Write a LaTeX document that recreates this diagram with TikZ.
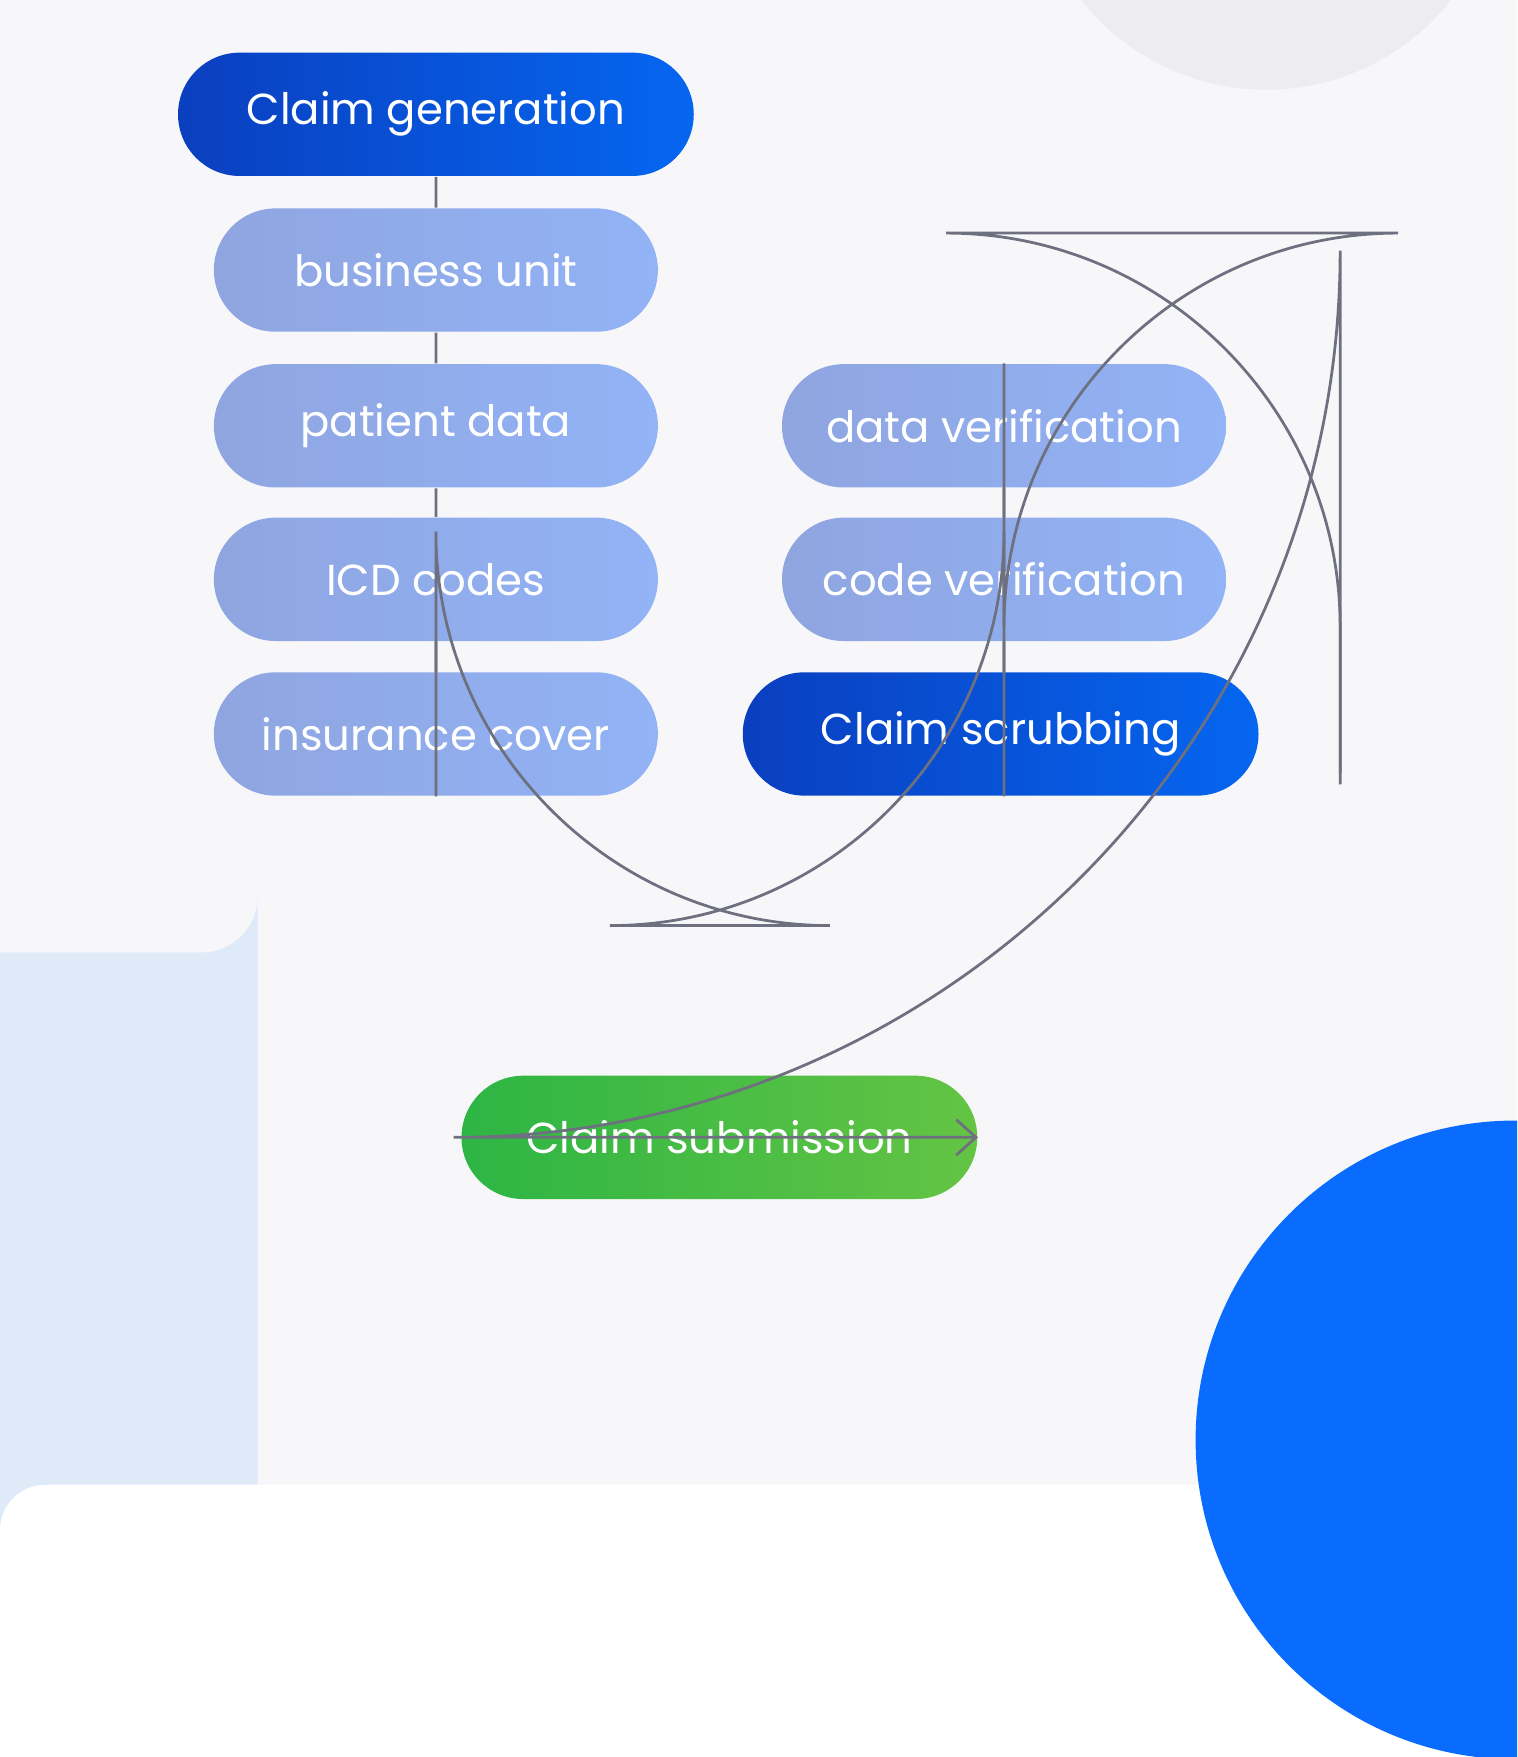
\documentclass[tikz,border=0pt]{standalone}
\usepackage{fontspec}
\setmainfont{Poppins}
\usetikzlibrary{shapes.misc,arrows.meta}
\definecolor{bggray}{HTML}{F7F7F9}
\definecolor{lightpanel}{HTML}{DFEAF9}
\definecolor{topcircle}{HTML}{EDEDF0}
\definecolor{bigblue}{HTML}{0A6CFF}
\definecolor{darkA}{HTML}{0A3FBF}
\definecolor{darkB}{HTML}{0566F0}
\definecolor{paleA}{HTML}{8FA5E0}
\definecolor{paleB}{HTML}{92B3F6}
\definecolor{greenA}{HTML}{2DB544}
\definecolor{greenB}{HTML}{64C444}
\definecolor{linegray}{HTML}{6E7080}
\tikzset{
    pill/.style={rounded rectangle, text=white, font=\fontsize{11}{13}\selectfont,
        minimum height=1.1cm, inner sep=0pt},
    mainpill/.style={pill, minimum width=4.6cm, left color=darkA, right color=darkB},
    subpill/.style={pill, minimum width=3.96cm, left color=paleA, right color=paleB},
    endpill/.style={pill, minimum width=4.6cm, left color=greenA, right color=greenB},
    link/.style={draw=linegray, line width=0.7pt}
}
\begin{document}
\begin{tikzpicture}[x=0.01cm,y=-0.01cm]
            \useasboundingbox (0,0) rectangle (1354,1568);
            \begin{scope}
                \clip (0,0) rectangle (1354,1568);
                % background
                \fill[bggray] (0,0) -- (1354,0) -- (1354,1325) -- (40,1325)
                    arc[start angle=270,end angle=180,radius=40] -- cycle;
                \fill[lightpanel] (0,850) -- (180,850)
                    arc[start angle=90,end angle=0,radius=50] -- (230,1325) -- (40,1325)
                    arc[start angle=270,end angle=180,radius=40] -- cycle;
                \fill[topcircle] (1130,-130) circle[radius=210];
                \fill[bigblue] (1352,1285) circle[radius=285];
            \end{scope}
            % left column
            \node[mainpill] (gen) at (389,102) {Claim generation};
            \node[subpill] (unit) at (389,241) {business unit};
            \node[subpill] (patient) at (389,380) {patient data};
            \node[subpill] (icd) at (389,517) {ICD codes};
            \node[subpill] (cover) at (389,655) {insurance cover};
            % right column
            \node[subpill] (dataver) at (896,380) {data verification};
            \node[subpill] (codever) at (896,517) {code verification};
            \node[mainpill] (scrub) at (893,655) {Claim scrubbing};
            \node[endpill] (submit) at (642,1015) {Claim submission};
            \coordinate (loopA) at (389,826);
            \coordinate (loopB) at (896,208);
            \coordinate (loopC) at (1196,1015);
            \begin{scope}[on background layer/.style={}]
                \draw[link] (gen) -- (unit);
                \draw[link] (unit) -- (patient);
                \draw[link] (patient) -- (icd);
                \draw[link] (icd) -- (cover);
                \draw[link] (dataver) -- (codever);
                \draw[link] (codever) -- (scrub.north -| codever);
                \draw[link, rounded corners=100] (cover.south) -- (loopA)
                    -- (loopA -| codever) -- (scrub.south -| codever);
                \draw[link, rounded corners=100] (dataver.north) -- (loopB)
                    -- (loopB -| loopC) -- (1196,700);
                \draw[link, -{Straight Barb[length=5pt,width=9pt]}, rounded corners=225]
                    (1196,690) -- (loopC) -- (submit.east);
            \end{scope}
        \end{tikzpicture}
\end{document}
